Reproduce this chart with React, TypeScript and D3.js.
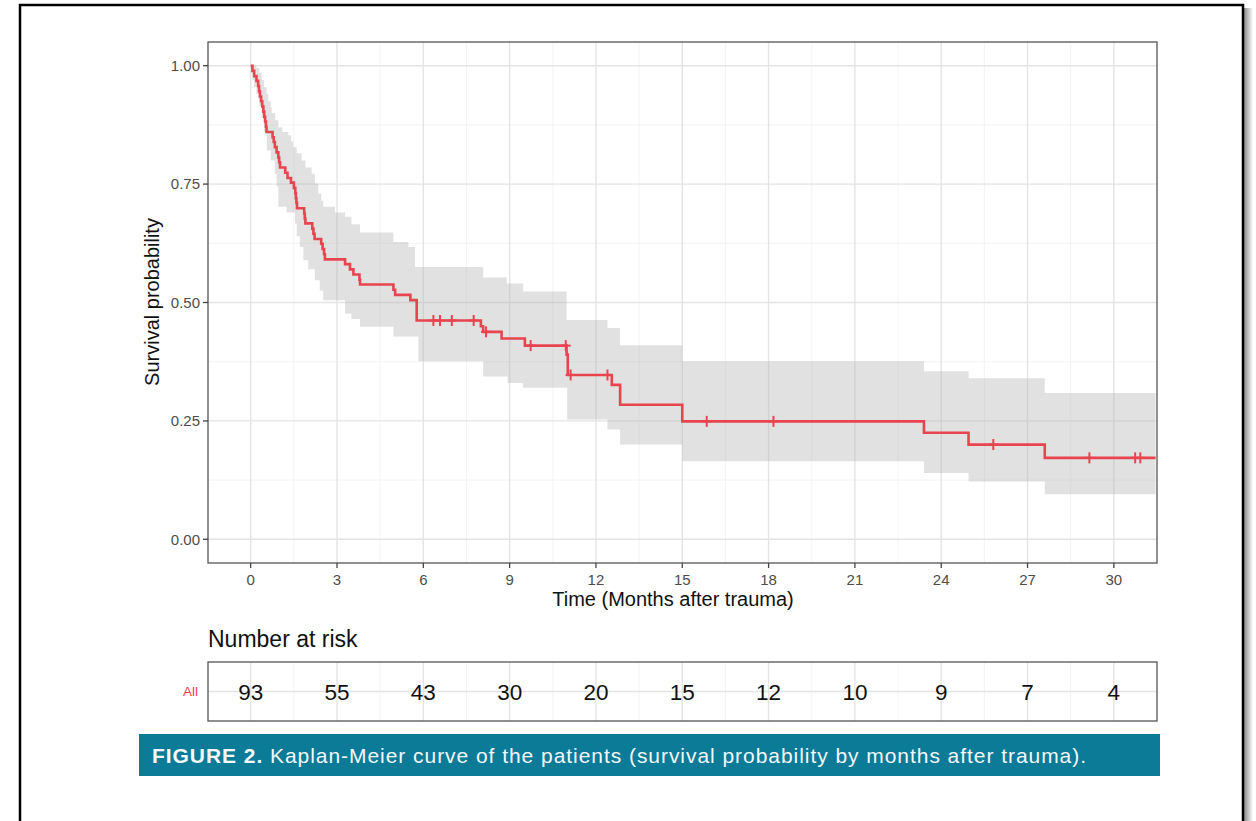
import React from "react";
import * as d3 from "d3";

// ---- Kaplan-Meier estimate (months, survival probability) ----
const survTime = [0, 0.06, 0.12, 0.2, 0.26, 0.29, 0.32, 0.36, 0.4, 0.44, 0.47, 0.5, 0.53, 0.55, 0.76, 0.8, 0.84, 0.9, 0.96, 0.99, 1.02, 1.2, 1.28, 1.4, 1.5, 1.55, 1.57, 1.59, 1.61, 1.86, 1.88, 1.9, 2.14, 2.18, 2.22, 2.45, 2.5, 2.55, 2.58, 3.28, 3.45, 3.57, 3.78, 3.8, 4.96, 5.02, 5.55, 5.77, 8.0, 8.08, 8.72, 9.53, 10.98, 11.02, 12.55, 12.84, 15.0, 23.4, 24.95, 27.6];
const survProb = [1.0, 0.989, 0.978, 0.968, 0.957, 0.946, 0.935, 0.925, 0.914, 0.903, 0.892, 0.882, 0.871, 0.86, 0.849, 0.839, 0.828, 0.817, 0.806, 0.796, 0.785, 0.774, 0.763, 0.753, 0.742, 0.731, 0.72, 0.71, 0.699, 0.688, 0.677, 0.667, 0.656, 0.645, 0.634, 0.624, 0.613, 0.602, 0.591, 0.581, 0.57, 0.559, 0.548, 0.538, 0.527, 0.516, 0.505, 0.462, 0.45, 0.438, 0.424, 0.409, 0.39, 0.347, 0.326, 0.284, 0.249, 0.225, 0.2, 0.172];
const lastTime = 31.45;
const censorTime = [6.35, 6.58, 6.99, 7.75, 8.18, 9.73, 10.95, 11.12, 12.4, 15.85, 18.17, 25.81, 29.15, 30.74, 30.92];

// ---- confidence band ----
const upperTime = [0, 0.2, 0.3, 0.38, 0.46, 0.55, 0.61, 0.7, 0.73, 0.85, 0.96, 1.1, 1.31, 1.4, 1.48, 1.6, 1.77, 1.9, 2.12, 2.23, 2.35, 2.45, 2.52, 2.93, 3.28, 3.5, 3.8, 4.96, 5.48, 5.71, 8.08, 8.9, 9.47, 10.98, 12.4, 12.84, 15.0, 23.4, 24.95, 27.6];
const upperProb = [1.0, 0.995, 0.985, 0.97, 0.955, 0.94, 0.925, 0.912, 0.9, 0.885, 0.87, 0.86, 0.853, 0.84, 0.828, 0.815, 0.8, 0.785, 0.772, 0.751, 0.73, 0.715, 0.702, 0.69, 0.681, 0.665, 0.648, 0.628, 0.617, 0.575, 0.553, 0.54, 0.523, 0.463, 0.446, 0.41, 0.376, 0.355, 0.34, 0.309];
const lowerTime = [0, 0.06, 0.12, 0.2, 0.3, 0.38, 0.46, 0.56, 0.7, 0.84, 0.9, 0.96, 1.25, 1.54, 1.6, 1.71, 1.83, 2.0, 2.23, 2.4, 2.52, 3.28, 3.5, 3.8, 4.96, 5.83, 8.08, 8.93, 9.47, 11.0, 12.4, 12.84, 15.0, 23.4, 24.95, 27.6];
const lowerProb = [1.0, 0.97, 0.955, 0.94, 0.915, 0.89, 0.86, 0.821, 0.8, 0.772, 0.745, 0.702, 0.69, 0.667, 0.64, 0.617, 0.589, 0.57, 0.547, 0.525, 0.505, 0.477, 0.465, 0.449, 0.428, 0.376, 0.344, 0.33, 0.32, 0.253, 0.232, 0.2, 0.165, 0.14, 0.122, 0.095];

// ---- axes & risk table ----
const xTicks = [0, 3, 6, 9, 12, 15, 18, 21, 24, 27, 30];
const xMinor = [1.5, 4.5, 7.5, 10.5, 13.5, 16.5, 19.5, 22.5, 25.5, 28.5];
const yTicks = [0, 0.25, 0.5, 0.75, 1];
const yMinor = [0.125, 0.375, 0.625, 0.875];
const riskTimes = [0, 3, 6, 9, 12, 15, 18, 21, 24, 27, 30];
const riskCounts = [93, 55, 43, 30, 20, 15, 12, 10, 9, 7, 4];
const strataLabel = "All";
const xTitle = "Time (Months after trauma)";
const yTitle = "Survival probability";
const riskTitle = "Number at risk";
const captionBold = "FIGURE 2.";
const captionText = " Kaplan-Meier curve of the patients (survival probability by months after trauma).";

const FONT = "'Liberation Sans', Arial, Helvetica, sans-serif";
const RED = "#e8444f";

function stepValue(times: number[], vals: number[], t: number) {
  let v = vals[0];
  for (let i = 0; i < times.length; i++) if (times[i] <= t) v = vals[i];
  return v;
}

export default function App() {
  const W = 1256, H = 821;
  const P = { x0: 208, x1: 1157, y0: 42, y1: 563 };
  const T = { y0: 662, y1: 721 };
  const x = d3.scaleLinear().domain([-1.484, 31.5]).range([P.x0, P.x1]);
  const y = d3.scaleLinear().domain([-0.05, 1.05]).range([P.y1, P.y0]);

  const curvePts: [number, number][] = survTime.map((t, i) => [t, survProb[i]] as [number, number]);
  curvePts.push([lastTime, survProb[survProb.length - 1]]);
  const line = d3.line<[number, number]>().x(d => x(d[0])).y(d => y(d[1])).curve(d3.curveStepAfter);

  const bandTimes = Array.from(new Set([...upperTime, ...lowerTime, lastTime])).sort((a, b) => a - b);
  const band = bandTimes.map(t => ({ t, u: stepValue(upperTime, upperProb, t), l: stepValue(lowerTime, lowerProb, t) }));
  const area = d3.area<{ t: number; u: number; l: number }>()
    .x(d => x(d.t)).y0(d => y(d.l)).y1(d => y(d.u)).curve(d3.curveStepAfter);

  const tableMid = (T.y0 + T.y1) / 2;

  return (
    <svg width={W} height={H} style={{ position: "absolute", left: 0, top: 0, background: "#fff" }} fontFamily={FONT}>
      <defs>
        <linearGradient id="shadowR" x1="0" x2="1" y1="0" y2="0">
          <stop offset="0" stopColor="#8a8a8a" />
          <stop offset="1" stopColor="#ffffff" />
        </linearGradient>
      </defs>
      <rect x={0} y={0} width={W} height={H} fill="#fff" />
      {/* outer frame */}
      <rect x={1244} y={8} width={9} height={H} fill="url(#shadowR)" />
      <rect x={20} y={5} width={1223} height={H + 20} fill="none" stroke="#000" strokeWidth={2.5} />

      {/* panel grid */}
      <g>
        {yMinor.map(v => <line key={"ym" + v} x1={P.x0} x2={P.x1} y1={y(v)} y2={y(v)} stroke="#f0f0f0" strokeWidth={0.8} />)}
        {xMinor.map(v => <line key={"xm" + v} x1={x(v)} x2={x(v)} y1={P.y0} y2={P.y1} stroke="#f0f0f0" strokeWidth={0.8} />)}
        {yTicks.map(v => <line key={"yM" + v} x1={P.x0} x2={P.x1} y1={y(v)} y2={y(v)} stroke="#e4e4e4" strokeWidth={1.4} />)}
        {xTicks.map(v => <line key={"xM" + v} x1={x(v)} x2={x(v)} y1={P.y0} y2={P.y1} stroke="#e4e4e4" strokeWidth={1.4} />)}
      </g>

      {/* confidence band */}
      <path d={area(band) || ""} fill="#b4b4b4" fillOpacity={0.4} />
      {/* KM curve */}
      <path d={line(curvePts) || ""} fill="none" stroke={RED} strokeWidth={2.6} />
      {censorTime.map(t => {
        const cx = x(t), cy = y(stepValue(survTime, survProb, t));
        return (
          <g key={"c" + t} stroke={RED} strokeWidth={2}>
            <line x1={cx - 5} x2={cx + 5} y1={cy} y2={cy} />
            <line x1={cx} x2={cx} y1={cy - 5.5} y2={cy + 5.5} />
          </g>
        );
      })}

      {/* panel border */}
      <rect x={P.x0} y={P.y0} width={P.x1 - P.x0} height={P.y1 - P.y0} fill="none" stroke="#555" strokeWidth={1.3} />

      {/* y axis */}
      {yTicks.map(v => (
        <g key={"yt" + v}>
          <line x1={P.x0 - 5} x2={P.x0} y1={y(v)} y2={y(v)} stroke="#444" strokeWidth={1.3} />
          <text x={P.x0 - 8} y={y(v)} dy="0.35em" textAnchor="end" fontSize={15} fill="#4d4d4d">{v.toFixed(2)}</text>
        </g>
      ))}
      {/* x axis */}
      {xTicks.map(v => (
        <g key={"xt" + v}>
          <line x1={x(v)} x2={x(v)} y1={P.y1} y2={P.y1 + 5} stroke="#444" strokeWidth={1.3} />
          <text x={x(v)} y={P.y1 + 22} textAnchor="middle" fontSize={15} fill="#4d4d4d">{v}</text>
        </g>
      ))}
      <text x={673} y={606} textAnchor="middle" fontSize={20} fill="#111">{xTitle}</text>
      <text transform={`translate(159,302) rotate(-90)`} textAnchor="middle" fontSize={20} fill="#111">{yTitle}</text>

      {/* risk table */}
      <text x={P.x0} y={647} fontSize={23} fill="#111">{riskTitle}</text>
      <g>
        {xMinor.map(v => <line key={"rm" + v} x1={x(v)} x2={x(v)} y1={T.y0} y2={T.y1} stroke="#f0f0f0" strokeWidth={0.8} />)}
        {xTicks.map(v => <line key={"rM" + v} x1={x(v)} x2={x(v)} y1={T.y0} y2={T.y1} stroke="#e4e4e4" strokeWidth={1.4} />)}
        <line x1={P.x0} x2={P.x1} y1={tableMid} y2={tableMid} stroke="#e4e4e4" strokeWidth={1.4} />
        <rect x={P.x0} y={T.y0} width={P.x1 - P.x0} height={T.y1 - T.y0} fill="none" stroke="#555" strokeWidth={1.3} />
        <text x={P.x0 - 10} y={tableMid} dy="0.35em" textAnchor="end" fontSize={13.5} fill={RED}>{strataLabel}</text>
        {riskTimes.map((t, i) => (
          <text key={"rn" + t} x={x(t)} y={tableMid} dy="0.36em" textAnchor="middle" fontSize={22.5} fill="#111">{riskCounts[i]}</text>
        ))}
      </g>

      {/* caption */}
      <rect x={139} y={734} width={1021} height={42} fill="#0b7b98" />
      <text x={152} y={763} fontSize={21} letterSpacing={0.95} fill="#f4f8fa">
        <tspan fontWeight="bold">{captionBold}</tspan>
        <tspan>{captionText}</tspan>
      </text>
    </svg>
  );
}
